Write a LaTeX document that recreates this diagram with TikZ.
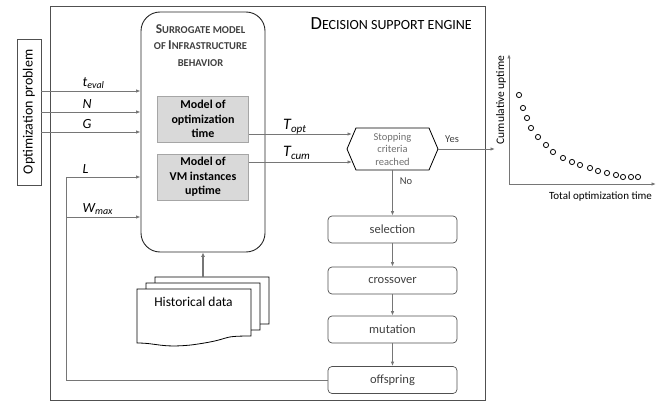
\documentclass[tikz,border=0pt]{standalone}
\usepackage{fontspec}
\setmainfont{Carlito}
\usetikzlibrary{arrows.meta}
\definecolor{linegray}{HTML}{767676}
\definecolor{framegray}{HTML}{505050}
\definecolor{boxfill}{HTML}{D9D9D9}
\definecolor{boxedge}{HTML}{A6A6A6}
\definecolor{txtgray}{HTML}{404040}
\definecolor{lighttxt}{HTML}{707070}
\newcommand{\mysc}[4]{{\fontsize{#3}{#3}\selectfont #1}{\fontsize{#4}{#4}\selectfont #2}}
\begin{document}
\begin{tikzpicture}[x=1pt,y=-1pt,
  conn/.style={draw=linegray, line width=0.9pt},
  arr/.style={conn, -{Latex[length=4.5pt,width=3.5pt]}},
  graybox/.style={draw=boxedge, fill=boxfill, line width=0.8pt, minimum width=91pt, minimum height=46pt, inner sep=1pt, align=center, font=\fontsize{12}{14.5}\selectfont\bfseries},
  stepbox/.style={draw=framegray, rounded corners=4pt, line width=0.7pt, minimum width=129pt, minimum height=27pt, text=txtgray, font=\fontsize{12.5}{13}\selectfont},
  varlab/.style={anchor=base west, inner sep=0pt, font=\fontsize{14}{14}\selectfont\itshape},
  surt/.style={anchor=base, inner sep=0pt, text=txtgray, font=\bfseries},
  dot/.style={draw=black, line width=0.8pt, circle, minimum size=5.2pt, inner sep=0pt}
]
\useasboundingbox (0,0) rectangle (667,401);

% main frame
\node[draw=framegray, line width=0.9pt, minimum width=435pt, minimum height=394pt, inner sep=0pt] (engine) at (267.5,203) {};
\node[anchor=base east, inner sep=0pt, text=black] (title) at (472,29.5)
  {\mysc{D}{ECISION SUPPORT ENGINE}{18.5}{14}};

% optimization problem
\node[draw=framegray, line width=0.9pt, minimum width=24pt, minimum height=146pt, inner sep=0pt] (opt) at (29,112)
  {\rotatebox{90}{\fontsize{14}{14}\selectfont Optimization problem}};

% surrogate model
\node[draw=black!85, line width=0.9pt, rounded corners=19pt, minimum width=124pt, minimum height=240pt, inner sep=0pt] (sur) at (203,132) {};
\node[surt] (surt1) at (200.5,33.5) {\mysc{S}{URROGATE MODEL}{13.5}{10.5}};
\node[surt] (surt2) at (200.5,49.5) {\mysc{}{OF }{13.5}{10.5}\mysc{I}{NFRASTRUCTURE}{13.5}{10.5}};
\node[surt] (surt3) at (200.5,66.5) {\mysc{}{BEHAVIOR}{13.5}{10.5}};
\node[graybox] (mopt) at (203,119) {Model of\\optimization\\time};
\node[graybox] (mvm) at (203,177) {Model of\\VM instances\\uptime};

% historical data (stacked documents)
\coordinate (hd3) at (155,277);
\coordinate (hd2) at (146,283);
\coordinate (hd1) at (137,289);
\foreach \c in {hd3,hd2,hd1}{
  \draw[draw=black, line width=0.8pt, fill=white]
    (\c) -- ++(114,0) -- ++(0,47)
    .. controls +(-35,0) and +(45,-6) .. ++(-60,9)
    .. controls +(-30,3) and +(20,0) .. ++(-54,-2) -- cycle;
}
\node[inner sep=0pt, font=\fontsize{13.5}{14}\selectfont] (hist) at (193.5,302) {Historical data};
\draw[draw=linegray, line width=1.6pt, -{Latex[length=4.5pt,width=4pt]}] (203,277) -- (sur.south -| 203,0);

% input arrows
\draw[arr] (opt.east |- 0,91) -- (sur.west |- 0,91);
\draw[arr] (opt.east |- 0,112) -- (sur.west |- 0,112);
\draw[arr] (opt.east |- 0,132) -- (sur.west |- 0,132);
\node[varlab] (lt) at (82.5,86.5) {t\textsubscript{\fontsize{10}{10}\selectfont eval}};
\node[varlab] (lN) at (82.5,109) {N};
\node[varlab] (lG) at (82.5,129) {G};

% feedback loop
\node[stepbox] (sel) at (392.5,229.5) {selection};
\node[stepbox] (cross) at (392.5,280.5) {crossover};
\node[stepbox] (mut) at (392.5,329.5) {mutation};
\node[stepbox] (off) at (392.5,380) {offspring};
\coordinate (loopc) at (66,380);
\coordinate (lc) at (66,177);
\coordinate (wc) at (66,217);
\draw[conn] (off.west) -- (loopc) -- (lc);
\draw[arr] (lc) -- (sur.west |- lc);
\draw[arr] (wc) -- (sur.west |- wc);
\node[varlab] (lL) at (82.5,174) {L};
\node[varlab] (lW) at (82.5,212) {W\textsubscript{\fontsize{10}{10}\selectfont max}};

% hexagon
\coordinate (hl) at (347,149);
\coordinate (htl) at (356,128);
\coordinate (htr) at (429,128);
\coordinate (hr) at (438,149);
\coordinate (hbr) at (429,170);
\coordinate (hbl) at (356,170);
\draw[draw=black, line width=0.8pt] (hl) -- (htl) -- (htr) -- (hr) -- (hbr) -- (hbl) -- cycle;
\node[inner sep=0pt, align=center, text=lighttxt, font=\fontsize{10.5}{12.5}\selectfont] (hex) at (392.5,149) {Stopping\\criteria\\reached};
\coordinate (hin1) at (352,134);
\coordinate (hin2) at (352,162);
\draw[arr] (mopt.east |- hin1) -- (hin1);
\draw[arr] (mvm.east |- hin2) -- (hin2);
\node[anchor=base west, inner sep=0pt, font=\fontsize{16}{16}\selectfont\itshape] (lTo) at (283,130) {T\textsubscript{\fontsize{11}{11}\selectfont opt}};
\node[anchor=base west, inner sep=0pt, font=\fontsize{16}{16}\selectfont\itshape] (lTc) at (283,157) {T\textsubscript{\fontsize{11}{11}\selectfont cum}};

\coordinate (hbot) at (392.5,170);
\draw[arr] (hbot) -- (sel.north);
\node[inner sep=0pt, text=txtgray, font=\fontsize{10.5}{12}\selectfont] (no) at (406,181) {No};
\draw[arr] (sel.south) -- (cross.north);
\draw[arr] (cross.south) -- (mut.north);
\draw[arr] (mut.south) -- (off.north);

% Yes to chart
\coordinate (yesend) at (495,149);
\draw[arr] (hr) -- (yesend);
\node[inner sep=0pt, text=txtgray, font=\fontsize{10.5}{12}\selectfont] (yes) at (452,139) {Yes};

% chart
\coordinate (orig) at (509,184);
\coordinate (ytop) at (509,54);
\coordinate (xend) at (656,184);
\draw[arr] (orig) -- (ytop);
\draw[arr] (orig) -- (xend);
\node[rotate=90, inner sep=0pt, font=\fontsize{11.5}{12}\selectfont] (ylab) at (501,100) {Cumulative uptime};
\node[inner sep=0pt, font=\fontsize{11}{12}\selectfont] (xlab) at (600.5,197) {Total optimization time};
\foreach \px/\py [count=\i] in {519/95,523/108,527/118,531/128,538/137,546/145,553/152,563/158,572/162,580/165,590/168,598/171,607/173,616/175,623/177,631/177,638/177}{
  \node[dot] (d\i) at (\px,\py) {};
}
\end{tikzpicture}
\end{document}
